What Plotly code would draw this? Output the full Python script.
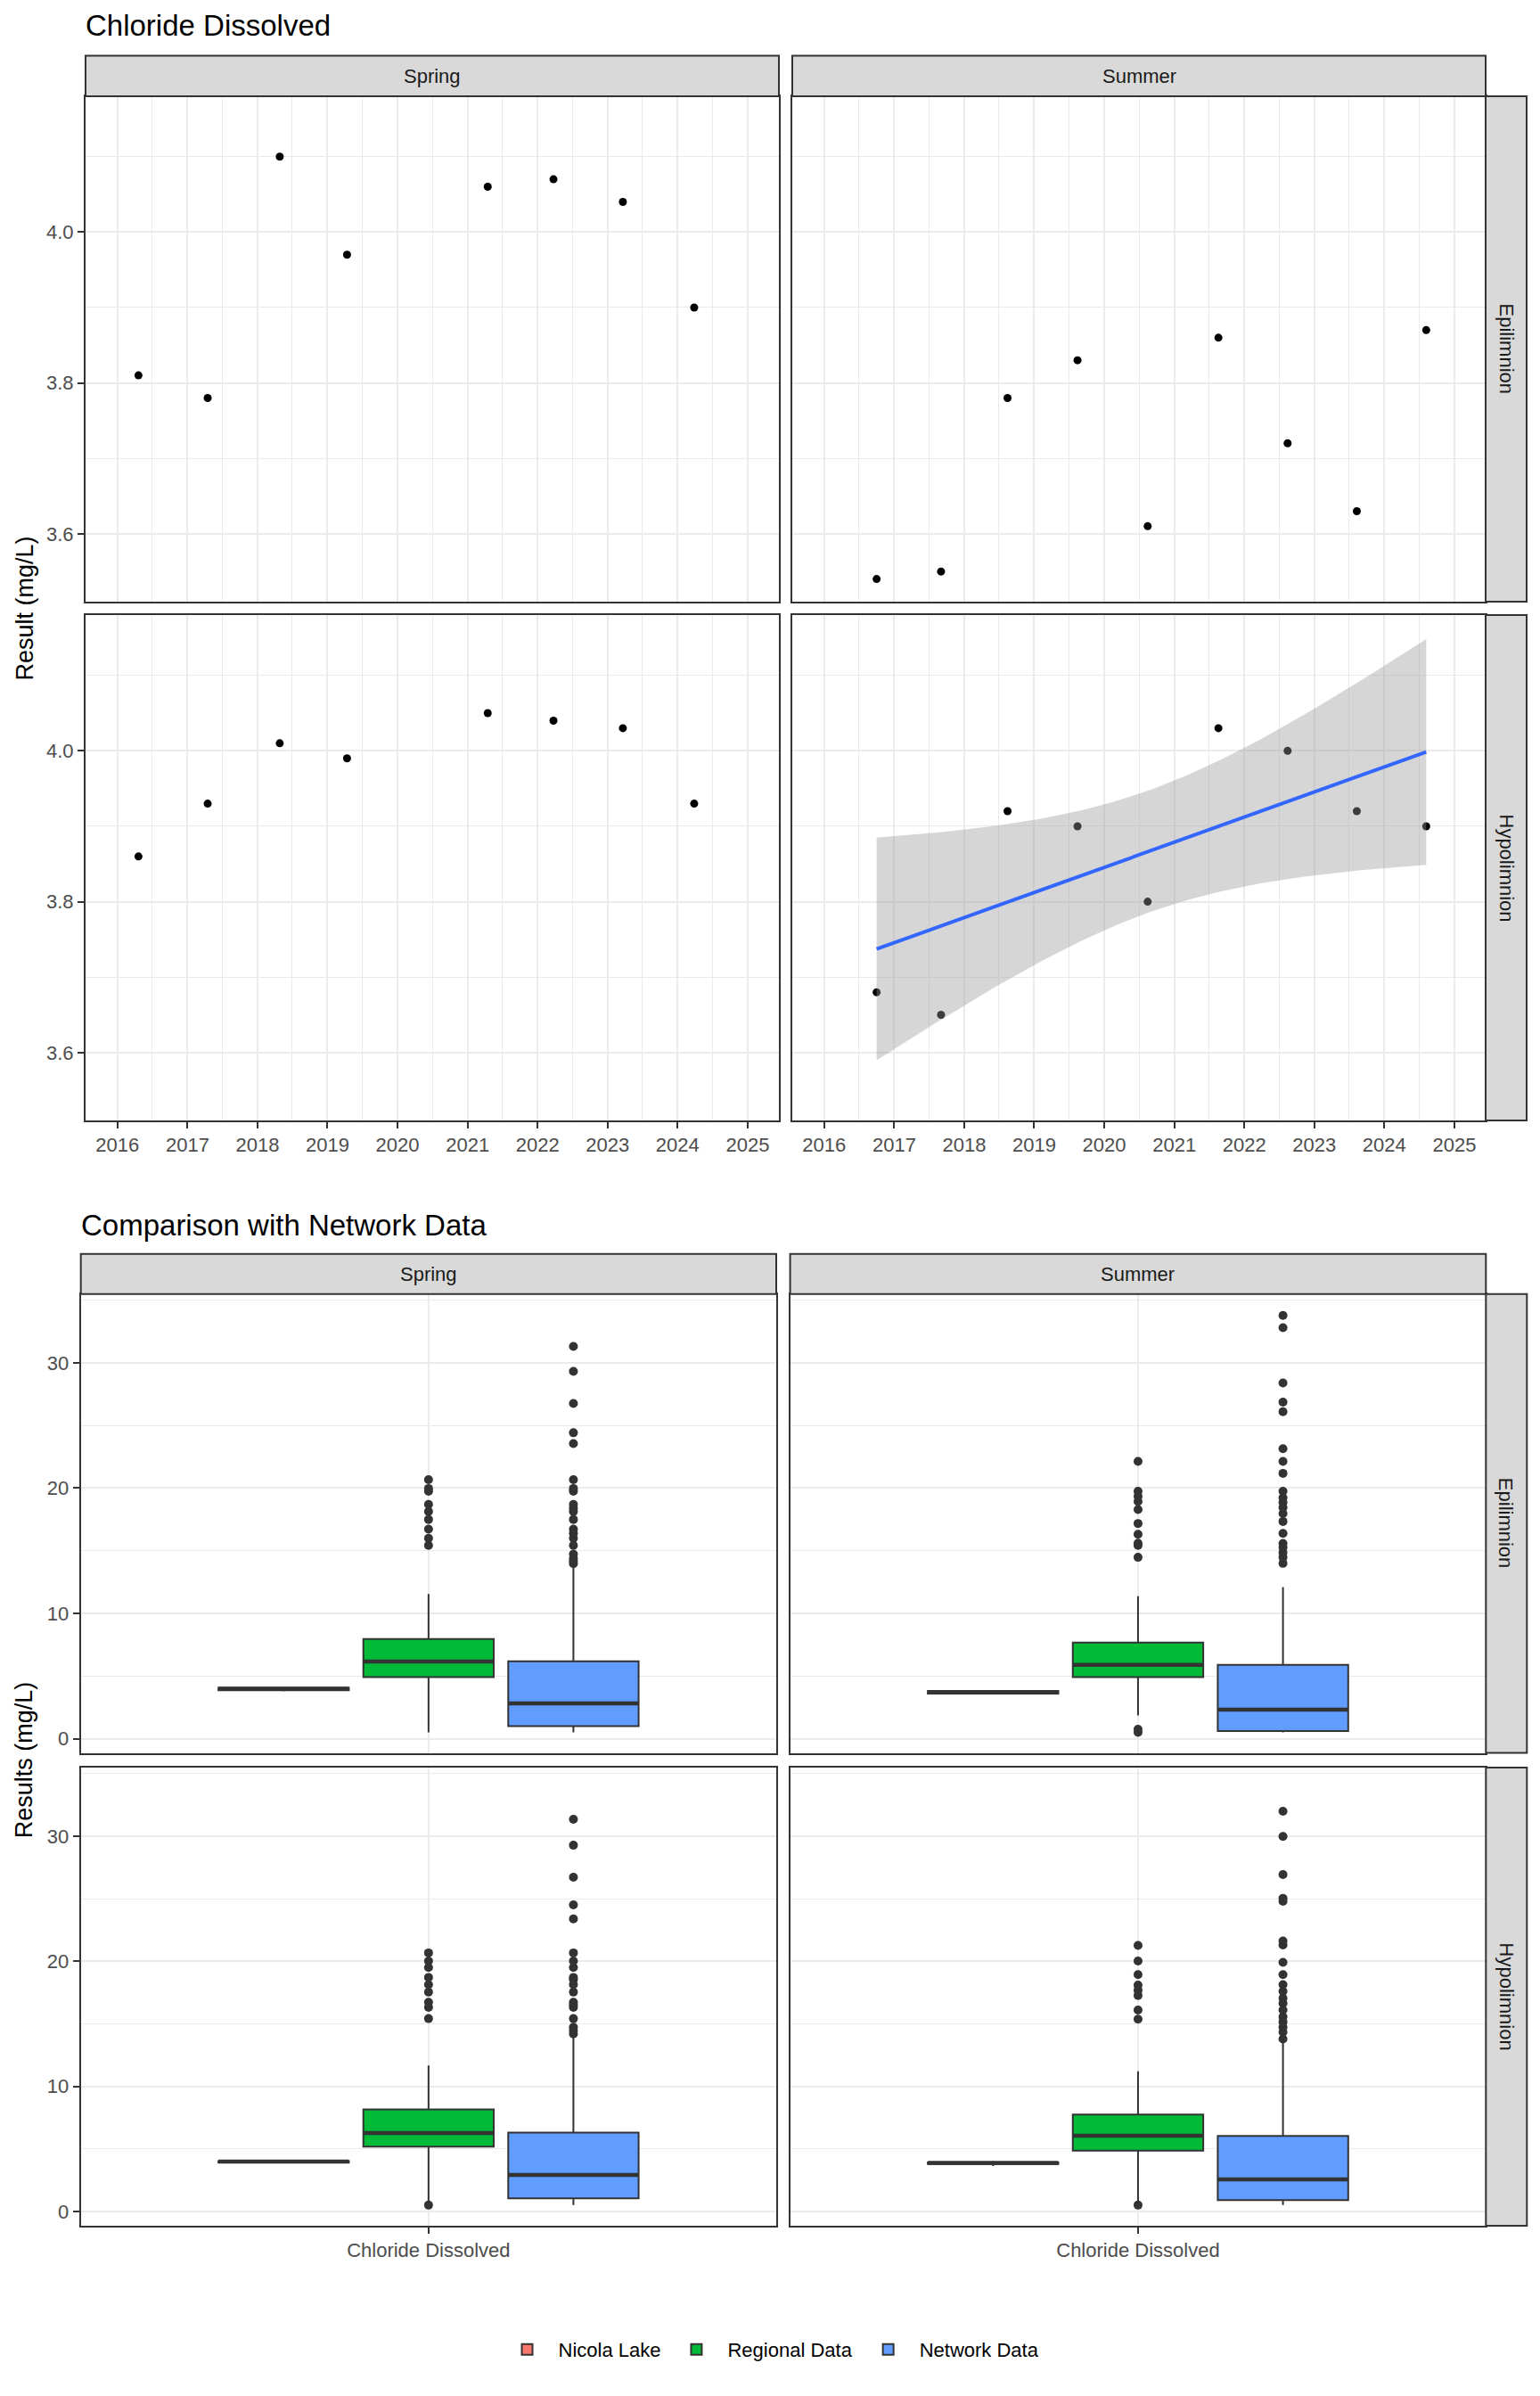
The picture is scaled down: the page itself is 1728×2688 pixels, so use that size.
import numpy as np
import pandas as pd
import plotly.graph_objects as go
from plotly.subplots import make_subplots

W, H = 1728, 2688
FONT = "Liberation Sans, Arial, sans-serif"
DARK = "#333333"
GRID = "#EBEBEB"
TICKC = "#4D4D4D"

# ---------------- data ----------------
seasons = ["Spring", "Summer"]
depths = ["Epilimnion", "Hypolimnion"]

spring_dates = ["2016-04-20", "2017-04-16", "2018-04-27", "2019-04-13",
                "2021-04-16", "2022-03-25", "2023-03-22", "2024-03-28"]
spring_epi = [3.81, 3.78, 4.10, 3.97, 4.06, 4.07, 4.04, 3.90]
spring_hypo = [3.86, 3.93, 4.01, 3.99, 4.05, 4.04, 4.03, 3.93]

summer_dates = ["2016-10-01", "2017-09-02", "2018-08-15", "2019-08-15", "2020-08-15",
                "2021-08-19", "2022-08-15", "2023-08-11", "2024-08-07"]
summer_epi = [3.54, 3.55, 3.78, 3.83, 3.61, 3.86, 3.72, 3.63, 3.87]
summer_hypo = [3.68, 3.65, 3.92, 3.90, 3.80, 4.03, 4.00, 3.92, 3.90]

# panel order: Spring-Epi, Summer-Epi, Spring-Hypo, Summer-Hypo
panel_dates = [spring_dates, summer_dates, spring_dates, summer_dates]
panel_values = [spring_epi, summer_epi, spring_hypo, summer_hypo]
trend_panel = 3  # Summer Hypolimnion shows a linear fit

group_names = ["Nicola Lake", "Regional Data", "Network Data"]
group_colors = ["#F8766D", "#00BA38", "#619CFF"]
category = "Chloride Dissolved"

regional_q1 = [4.92, 4.92, 5.20, 4.87]
regional_median = [6.16, 5.90, 6.28, 6.06]
regional_q3 = [7.97, 7.68, 8.16, 7.75]
regional_lower = [0.51, 1.87, 0.76, 0.60]
regional_upper = [11.56, 11.37, 11.67, 11.21]
regional_outliers = [
    [15.43, 16.0, 16.73, 17.5, 18.13, 18.7, 19.75, 19.97, 20.67],
    [0.51, 0.76, 14.48, 15.43, 15.6, 16.32, 17.18, 18.29, 18.93, 19.34, 19.75, 22.13],
    [0.52, 15.42, 16.32, 16.73, 17.54, 18.14, 18.71, 19.50, 20.02, 20.67],
    [0.52, 15.37, 16.1, 17.27, 17.68, 18.09, 18.93, 20.02, 21.27],
]

network_q1 = [1.02, 0.63, 1.06, 0.92]
network_median = [2.82, 2.32, 2.94, 2.58]
network_q3 = [6.19, 5.90, 6.31, 6.04]
network_lower = [0.51, 0.51, 0.52, 0.52]
network_upper = [13.8, 12.10, 14.06, 13.52]
network_outliers = [
    [13.97, 14.16, 14.38, 14.73, 15.43, 16.0, 16.39, 16.73, 17.5, 18.13, 18.39, 18.7,
     19.75, 19.97, 20.67, 23.56, 24.42, 26.76, 29.31, 31.31],
    [14.0, 14.48, 14.86, 15.27, 15.59, 16.39, 17.34, 17.97, 18.45, 18.86, 19.24, 19.75,
     21.18, 22.13, 23.15, 26.10, 26.86, 28.39, 32.80, 33.78],
    [14.2, 14.47, 14.74, 15.42, 16.32, 16.51, 16.73, 17.54, 18.14, 18.55, 18.71, 19.5,
     20.02, 20.67, 23.39, 24.51, 26.71, 29.27, 31.34],
    [13.79, 14.34, 14.74, 15.15, 15.56, 16.1, 16.64, 17.05, 17.6, 18.14, 18.93, 19.91,
     21.3, 21.62, 24.8, 25.03, 26.93, 29.97, 31.98],
]

T975_DF7 = 2.3646  # t quantile for 95% CI with n=9

# ---------------- layout geometry (pixels) ----------------
top_cols = [(96, 874), (889, 1667)]
top_rows = [(108, 675), (690, 1257)]
bot_cols = [(90.7, 871), (886.6, 1667.3)]
bot_rows = [(1451.8, 1966.5), (1982.9, 2496.9)]
STRIP_W = 46


def fx(p):
    return p / W


def fy(p):
    return 1 - p / H


fig = make_subplots(rows=4, cols=2)


def axname(letter, row, col):
    idx = (row - 1) * 2 + col
    return f"{letter}axis" if idx == 1 else f"{letter}axis{idx}"


common = dict(showline=True, mirror=True, linecolor=DARK, linewidth=2,
              zeroline=False, tickcolor=DARK, tickwidth=2, ticklen=7,
              tickfont=dict(family=FONT, size=22, color=TICKC))

# ---------------- top chart ----------------
for p in range(4):
    row, col = p // 2 + 1, p % 2 + 1
    d = pd.to_datetime(panel_dates[p])
    v = np.array(panel_values[p])
    fig.add_trace(go.Scatter(x=d, y=v, mode="markers",
                             marker=dict(color="black", size=9),
                             showlegend=False, hoverinfo="skip"), row=row, col=col)
    if p == trend_panel:
        t = (d - pd.Timestamp("1970-01-01")).days.values.astype(float)
        n = len(t)
        tm, vm = t.mean(), v.mean()
        sxx = ((t - tm) ** 2).sum()
        slope = ((t - tm) * (v - vm)).sum() / sxx
        icpt = vm - slope * tm
        resid = v - (icpt + slope * t)
        s = np.sqrt((resid ** 2).sum() / (n - 2))
        tg = np.linspace(t.min(), t.max(), 80)
        fit = icpt + slope * tg
        se = s * np.sqrt(1 / n + (tg - tm) ** 2 / sxx)
        up, lo = fit + T975_DF7 * se, fit - T975_DF7 * se
        xg = pd.Timestamp("1970-01-01") + pd.to_timedelta(tg, unit="D")
        fig.add_trace(go.Scatter(x=list(xg) + list(xg[::-1]),
                                 y=list(up) + list(lo[::-1]),
                                 fill="toself", fillcolor="rgba(153,153,153,0.4)",
                                 line=dict(width=0), mode="lines",
                                 showlegend=False, hoverinfo="skip"), row=row, col=col)
        fig.add_trace(go.Scatter(x=xg, y=fit, mode="lines",
                                 line=dict(color="#3366FF", width=4),
                                 showlegend=False, hoverinfo="skip"), row=row, col=col)

    xa = dict(common, type="date", range=["2015-07-19", "2025-06-13"],
              dtick="M12", tick0="2016-01-01", tickformat="%Y",
              showgrid=True, gridcolor=GRID, gridwidth=2,
              minor=dict(dtick="M6", tick0="2016-01-01", showgrid=True,
                         gridcolor=GRID, gridwidth=1),
              domain=[fx(top_cols[col - 1][0]), fx(top_cols[col - 1][1])])
    if row == 1:
        xa.update(showticklabels=False, ticks="")
    else:
        xa.update(ticks="outside")
    ya = dict(common, range=[3.51, 4.18], tick0=3.6, dtick=0.2, tickformat=".1f",
              showgrid=True, gridcolor=GRID, gridwidth=2,
              minor=dict(dtick=0.1, tick0=3.6, showgrid=True, gridcolor=GRID, gridwidth=1),
              domain=[fy(top_rows[row - 1][1]), fy(top_rows[row - 1][0])])
    if col == 2:
        ya.update(showticklabels=False, ticks="")
    else:
        ya.update(ticks="outside")
    fig.layout[axname("x", row, col)].update(xa)
    fig.layout[axname("y", row, col)].update(ya)


# ---------------- bottom chart ----------------
def box_stats(vals):
    a = np.array(vals, dtype=float)
    q1, med, q3 = np.percentile(a, [25, 50, 75])
    iqr = q3 - q1
    inside = a[(a >= q1 - 1.5 * iqr) & (a <= q3 + 1.5 * iqr)]
    outl = a[(a < q1 - 1.5 * iqr) | (a > q3 + 1.5 * iqr)]
    return q1, med, q3, inside.min(), inside.max(), list(outl)


nicola_values = [spring_epi, summer_epi, spring_hypo, summer_hypo]
for p in range(4):
    row, col = p // 2 + 3, p % 2 + 1
    first = (p == 0)
    nq1, nmed, nq3, nlf, nuf, nout = box_stats(nicola_values[p])
    groups = [
        (nq1, nmed, nq3, nlf, nuf, nout),
        (regional_q1[p], regional_median[p], regional_q3[p], regional_lower[p],
         regional_upper[p], regional_outliers[p]),
        (network_q1[p], network_median[p], network_q3[p], network_lower[p],
         network_upper[p], network_outliers[p]),
    ]
    for gi, (q1, med, q3, lf, uf, outl) in enumerate(groups):
        kw = dict(y=[outl], boxpoints="outliers") if len(outl) else dict(boxpoints=False)
        fig.add_trace(go.Box(x=[category], q1=[q1], median=[med], q3=[q3],
                             lowerfence=[lf], upperfence=[uf],
                             name=group_names[gi], legendgroup=group_names[gi],
                             offsetgroup=group_names[gi], alignmentgroup=f"panel{p}",
                             showlegend=first, fillcolor=group_colors[gi],
                             line=dict(color=DARK, width=2), whiskerwidth=0,
                             jitter=0, pointpos=0,
                             marker=dict(color=DARK, size=10), hoverinfo="skip", **kw),
                      row=row, col=col)
        # thicker median bar, drawn as a degenerate box in the same slot
        fig.add_trace(go.Box(x=[category], q1=[med], median=[med], q3=[med],
                             lowerfence=[med], upperfence=[med],
                             name=group_names[gi], legendgroup=group_names[gi],
                             offsetgroup=group_names[gi], alignmentgroup=f"panel{p}",
                             showlegend=False, fillcolor="rgba(0,0,0,0)",
                             line=dict(color=DARK, width=4.5), whiskerwidth=0,
                             boxpoints=False, hoverinfo="skip"),
                      row=row, col=col)

    xa = dict(common, type="category", range=[-0.6, 0.6],
              showgrid=True, gridcolor=GRID, gridwidth=2,
              domain=[fx(bot_cols[col - 1][0]), fx(bot_cols[col - 1][1])])
    if row == 3:
        xa.update(showticklabels=False, ticks="")
    else:
        xa.update(ticks="outside")
    ya = dict(common, range=[-1.12, 35.48], tick0=0, dtick=10,
              showgrid=True, gridcolor=GRID, gridwidth=2,
              minor=dict(dtick=5, tick0=0, showgrid=True, gridcolor=GRID, gridwidth=1),
              domain=[fy(bot_rows[row - 3][1]), fy(bot_rows[row - 3][0])])
    if col == 2:
        ya.update(showticklabels=False, ticks="")
    else:
        ya.update(ticks="outside")
    fig.layout[axname("x", row, col)].update(xa)
    fig.layout[axname("y", row, col)].update(ya)

# ---------------- strips, titles ----------------
shapes, annotations = [], []


def strip(x0, y0, x1, y1, text, angle=0):
    shapes.append(dict(type="rect", xref="paper", yref="paper",
                       x0=fx(x0), x1=fx(x1), y0=fy(y1), y1=fy(y0),
                       fillcolor="#D9D9D9", line=dict(color=DARK, width=2), layer="above"))
    annotations.append(dict(xref="paper", yref="paper", x=fx((x0 + x1) / 2),
                            y=fy((y0 + y1) / 2), text=text, showarrow=False,
                            textangle=angle, xanchor="center", yanchor="middle",
                            font=dict(family=FONT, size=22, color="#1A1A1A")))


for cols, rows, top0 in [(top_cols, top_rows, 62.5), (bot_cols, bot_rows, 1406.7)]:
    for (c0, c1), s in zip(cols, seasons):
        strip(c0, top0, c1, rows[0][0], s)
    for (r0, r1), dname in zip(rows, depths):
        strip(cols[1][1], r0, cols[1][1] + STRIP_W, r1, dname, angle=90)


def text(x, y, s, size, angle=0, xanchor="left"):
    annotations.append(dict(xref="paper", yref="paper", x=fx(x), y=fy(y), text=s,
                            showarrow=False, textangle=angle, xanchor=xanchor,
                            yanchor="middle", font=dict(family=FONT, size=size, color="black")))


text(94, 29, "Chloride Dissolved", 33)
text(89, 1374, "Comparison with Network Data", 33)
text(27, (top_rows[0][0] + top_rows[1][1]) / 2, "Result (mg/L)", 27, angle=-90, xanchor="center")
text(27, (bot_rows[0][0] + bot_rows[1][1]) / 2, "Results (mg/L)", 27, angle=-90, xanchor="center")

fig.update_layout(
    width=W, height=H, margin=dict(l=0, r=0, t=0, b=0),
    paper_bgcolor="white", plot_bgcolor="white",
    font=dict(family=FONT, size=22, color="black"),
    boxmode="group", boxgap=0.25, boxgroupgap=0.1,
    shapes=shapes, annotations=annotations,
    legend=dict(orientation="h", x=0.5, xanchor="center", y=fy(2636), yanchor="middle",
                font=dict(family=FONT, size=22, color="black"), bgcolor="rgba(0,0,0,0)",
                itemwidth=60, traceorder="normal"),
    hovermode=False,
)

fig.write_html("out.html", config={"displayModeBar": False},
               post_script="document.body.style.margin='0';document.body.style.padding='0';")
